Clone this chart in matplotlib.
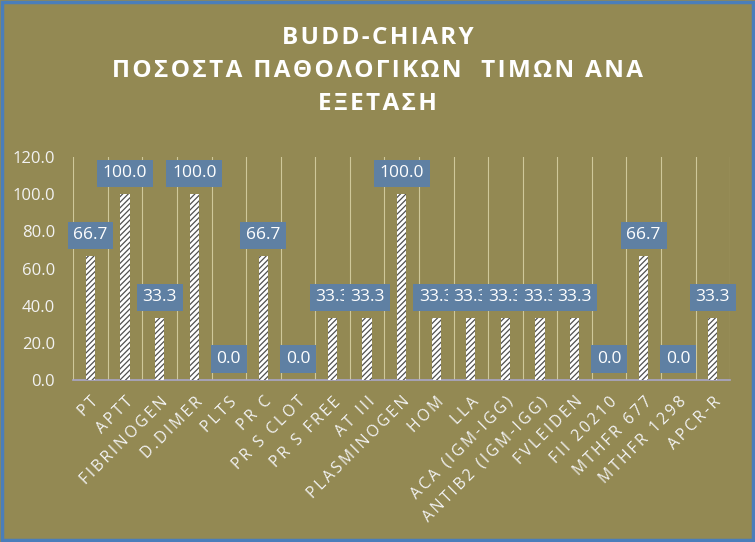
import numpy as np
import matplotlib
matplotlib.use("Agg")
import matplotlib.pyplot as plt
from matplotlib.patches import Rectangle

tests = ['PT', 'APTT', 'FIBRINOGEN', 'D.DIMER', 'PLTS', 'PR C', 'PR S CLOT',
         'PR S FREE', 'AT III', 'PLASMINOGEN', 'HOM', 'LLA', 'ACA (IGM-IGG)',
         'ANTIB2 (IGM-IGG)', 'FVLEIDEN', 'FII 20210', 'MTHFR 677', 'MTHFR 1298',
         'APCR-R']
percent = [66.7, 100.0, 33.3, 100.0, 0.0, 66.7, 0.0, 33.3, 33.3, 100.0,
           33.3, 33.3, 33.3, 33.3, 33.3, 0.0, 66.7, 0.0, 33.3]
yticks = [0, 20, 40, 60, 80, 100, 120]
title = ['BUDD-CHIARY', 'ΠΟΣΟΣΤΑ ΠΑΘΟΛΟΓΙΚΩΝ  ΤΙΜΩΝ ΑΝΑ', 'ΕΞΕΤΑΣΗ']

bg = '#938953'
txt = '#f2f2f2'
plt.rcParams['font.family'] = ['Open Sans', 'DejaVu Sans']
plt.rcParams['hatch.linewidth'] = 0.9


def spaced(s, sp='\u2009'):
    # crude letter spacing, like the excel chart
    return sp.join(s)


fig = plt.figure(figsize=(7.55, 5.42), dpi=100, facecolor=bg)
ax = fig.add_axes([0.097, 0.299, 0.870, 0.411], facecolor=bg)

x = np.arange(len(tests))
ax.bar(x, percent, width=0.27, color='white', edgecolor='#505050',
       linewidth=0, hatch='//////', zorder=3)

for xi, v in zip(x, percent):
    ax.annotate('%.1f' % v, (xi, v), xytext=(0, 15), textcoords='offset points',
                ha='center', va='center', fontsize=12.5, color='white', zorder=5,
                bbox=dict(boxstyle='square,pad=0.33', fc='#5f80a3', ec='none'))

ax.set_xlim(-0.5, len(tests) - 0.5)
ax.set_ylim(0, 120)
ax.set_yticks(yticks)
ax.set_yticklabels(['%.1f' % t for t in yticks], fontsize=12, color=txt)
ax.set_xticks(x)
ax.set_xticklabels([spaced(t) for t in tests], rotation=45, ha='right',
                   rotation_mode='anchor', fontsize=11.3, color=txt)
ax.tick_params(length=0, pad=13)
ax.tick_params(axis='x', pad=10)

for b in np.arange(-0.5, len(tests), 1.0):
    ax.axvline(b, color='#cfc89a', lw=0.8, zorder=1)
for s in ['top', 'right', 'left']:
    ax.spines[s].set_visible(False)
ax.spines['bottom'].set_color('#a9a6c8')
ax.spines['bottom'].set_linewidth(1.2)

for i, line in enumerate(title):
    fig.text(0.5, 1 - (38 + 33 * i) / 542, spaced(line, '\u200a'), ha='center',
             va='center', fontsize=17.5, fontweight='bold', color='white')

fig.patches.append(Rectangle((0.002, 0.003), 0.996, 0.994, transform=fig.transFigure,
                             fill=False, ec='#4a7ebb', lw=2.5))

fig.savefig('out.png', dpi=100, facecolor=bg)
